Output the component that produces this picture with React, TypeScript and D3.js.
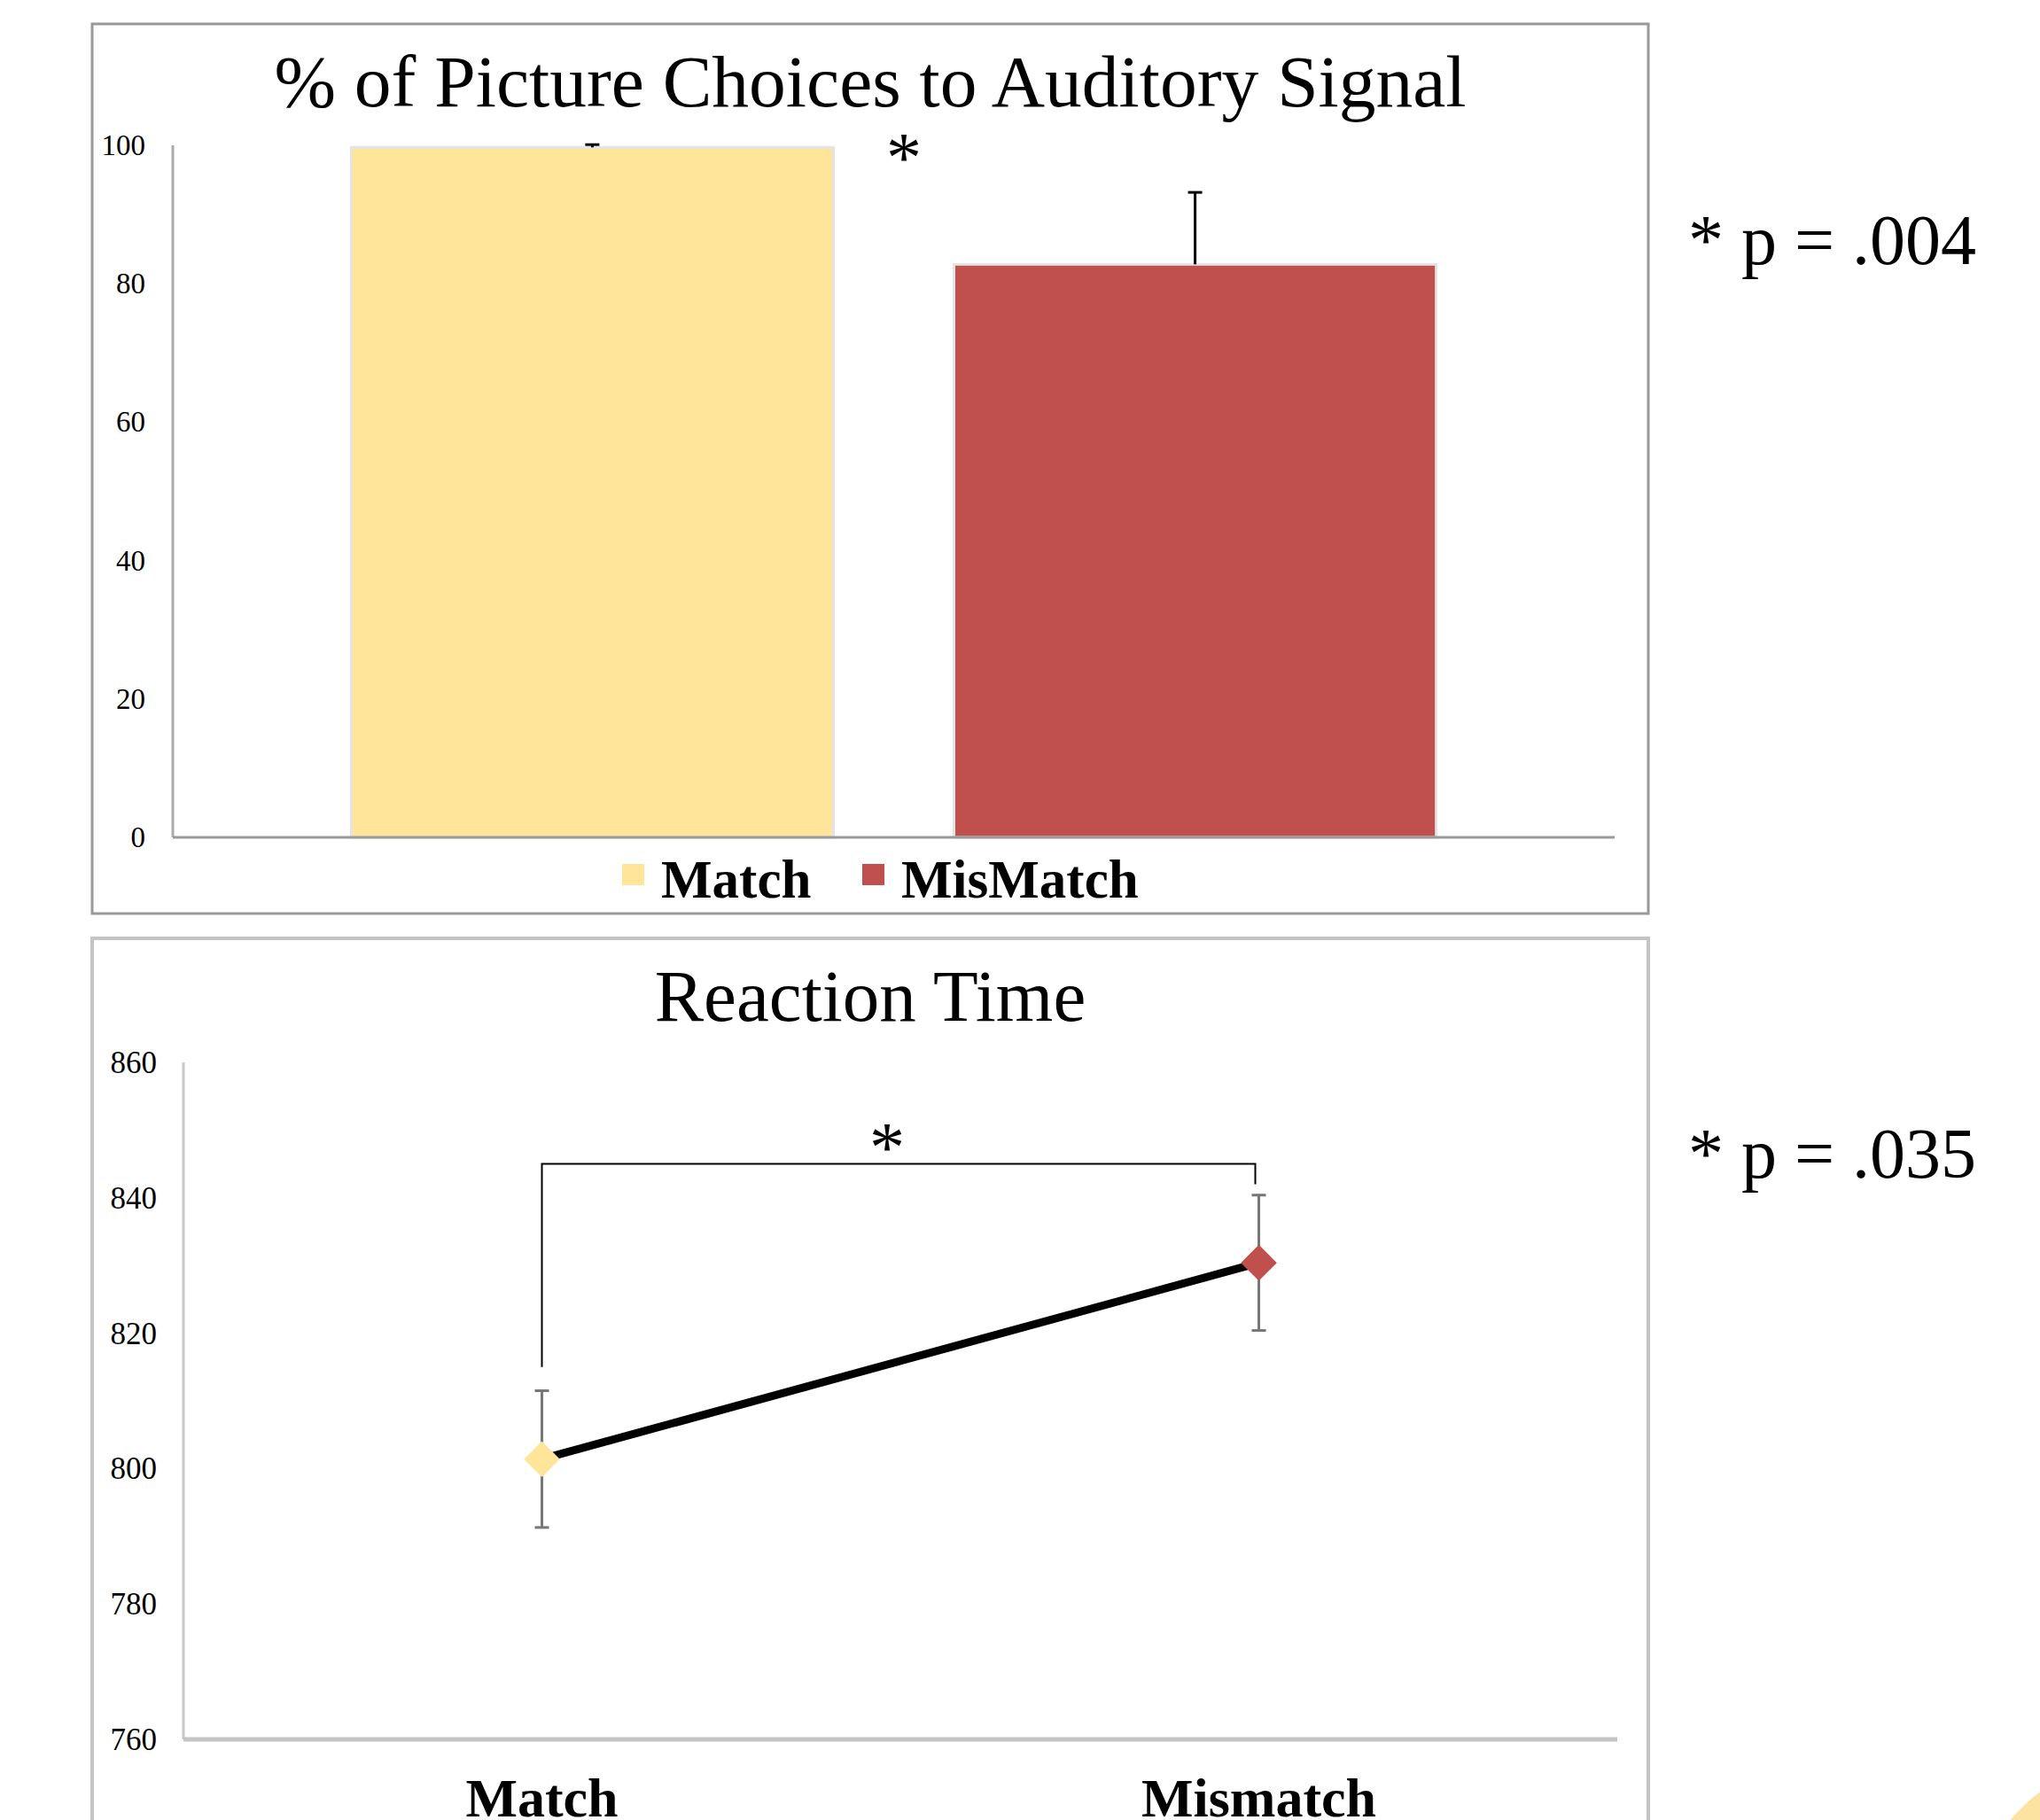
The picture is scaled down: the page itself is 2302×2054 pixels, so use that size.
import React from 'react';
import * as d3 from 'd3';

// top chart: % of picture choices
const groups = ['Match', 'MisMatch'];
const pctValues = [99.7, 82.8];
const pctErrors = [0.4, 10.4];
const pctTicks = [0, 20, 40, 60, 80, 100];

// bottom chart: reaction time
const conditions = ['Match', 'Mismatch'];
const rtValues = [801.4, 830.4];
const rtErrors = [10.1, 10.0];
const rtTicks = [760, 780, 800, 820, 840, 860];

const colors = ['#FEE599', '#C0504D'];
const serif = '"Liberation Serif", "DejaVu Serif", serif';

const W = 2302;
const H = 2054;

const App = () => {
  const x1 = d3.scaleBand().domain(groups).range([195, 1822]).paddingInner(0.2).paddingOuter(0.296);
  const y1 = d3.scaleLinear().domain([0, 100]).range([945, 164]);

  const x2 = d3.scalePoint().domain(conditions).range([207, 1825]).padding(0.5);
  const y2 = d3.scaleLinear().domain([760, 860]).range([1963, 1199]);

  const line = d3.line<number>()
    .x((d, i) => x2(conditions[i]) as number)
    .y(d => y2(d));

  const diamond = d3.symbol().type(d3.symbolDiamond2).size(1050);

  // significance bracket levels (in ms)
  const bracketTop = 845;
  const bracketLeft = 815;
  const bracketRight = 842;
  const xa = x2('Match') as number;
  const xb = (x2('Mismatch') as number) - 4;

  return (
    <svg width={W} height={H} style={{ position: 'absolute', left: 0, top: 0, background: '#fff' }}>
      {/* corner decoration */}
      <circle cx={2420} cy={2180} r={197} fill="#FDE3A2" />

      {/* ---------- top panel ---------- */}
      <rect x={104} y={27} width={1756} height={1004} fill="#fff" stroke="#999" strokeWidth={3} />
      <text x={982} y={120} textAnchor="middle" fontFamily={serif} fontSize={83.5} fill="#000">
        % of Picture Choices to Auditory Signal
      </text>

      {pctTicks.map(t => (
        <text key={t} x={164} y={y1(t) + 11} textAnchor="end" fontFamily={serif} fontSize={33} fill="#000">
          {t}
        </text>
      ))}
      <line x1={195} x2={195} y1={164} y2={945} stroke="#aaa" strokeWidth={3} />

      {groups.map((g, i) => (
        <rect
          key={g}
          x={x1(g)}
          y={y1(pctValues[i])}
          width={x1.bandwidth()}
          height={y1(0) - y1(pctValues[i])}
          fill={colors[i]}
          stroke="#e4e4e4"
          strokeWidth={3}
        />
      ))}
      {groups.map((g, i) => {
        const cx = (x1(g) as number) + x1.bandwidth() / 2;
        const top = y1(pctValues[i] + pctErrors[i]);
        return (
          <g key={g} stroke="#000" strokeWidth={3}>
            <line x1={cx} x2={cx} y1={top} y2={y1(pctValues[i])} />
            <line x1={cx - 8} x2={cx + 8} y1={top} y2={top} />
          </g>
        );
      })}
      <line x1={195} x2={1822} y1={945} y2={945} stroke="#999" strokeWidth={3} />

      <text x={1020} y={205} textAnchor="middle" fontFamily={serif} fontSize={80} fill="#000">*</text>

      {groups.map((g, i) => {
        const lx = [702, 973][i];
        return (
          <g key={g}>
            <rect x={lx} y={975} width={25} height={24} fill={colors[i]} />
            <text x={lx + 44} y={1013} fontFamily={serif} fontWeight="bold" fontSize={61} fill="#000">{g}</text>
          </g>
        );
      })}

      <text x={1905} y={298} fontFamily={serif} fontSize={80} fill="#000">* p = .004</text>

      {/* ---------- bottom panel ---------- */}
      <rect x={104} y={1059} width={1756} height={1100} fill="#fff" stroke="#c4c4c4" strokeWidth={4} />
      <text x={982} y={1152} textAnchor="middle" fontFamily={serif} fontSize={83} fill="#000">
        Reaction Time
      </text>

      {rtTicks.map(t => (
        <text key={t} x={177} y={y2(t) + 12} textAnchor="end" fontFamily={serif} fontSize={35} fill="#000">
          {t}
        </text>
      ))}
      <line x1={207} x2={207} y1={1199} y2={1963} stroke="#c8c8c8" strokeWidth={3} />
      <line x1={207} x2={1825} y1={1963} y2={1963} stroke="#c4c4c4" strokeWidth={5} />

      {/* bracket */}
      <path
        d={`M${xa},${y2(bracketLeft)}V${y2(bracketTop)}H${xb}V${y2(bracketRight)}`}
        fill="none"
        stroke="#000"
        strokeWidth={2}
      />
      <text x={1001} y={1322} textAnchor="middle" fontFamily={serif} fontSize={80} fill="#000">*</text>

      {conditions.map((c, i) => {
        const cx = x2(c) as number;
        const top = y2(rtValues[i] + rtErrors[i]);
        const bot = y2(rtValues[i] - rtErrors[i]);
        return (
          <g key={c} stroke="#777" strokeWidth={3}>
            <line x1={cx} x2={cx} y1={top} y2={bot} />
            <line x1={cx - 8} x2={cx + 8} y1={top} y2={top} />
            <line x1={cx - 8} x2={cx + 8} y1={bot} y2={bot} />
          </g>
        );
      })}
      <path d={line(rtValues) as string} fill="none" stroke="#000" strokeWidth={9} />
      {conditions.map((c, i) => (
        <path
          key={c}
          d={diamond() as string}
          transform={`translate(${x2(c)},${y2(rtValues[i])})`}
          fill={colors[i]}
        />
      ))}

      {conditions.map(c => (
        <text key={c} x={x2(c)} y={2050} textAnchor="middle" fontFamily={serif} fontWeight="bold" fontSize={62} fill="#000">
          {c}
        </text>
      ))}

      <text x={1905} y={1329} fontFamily={serif} fontSize={80} fill="#000">* p = .035</text>
    </svg>
  );
};

export default App;
